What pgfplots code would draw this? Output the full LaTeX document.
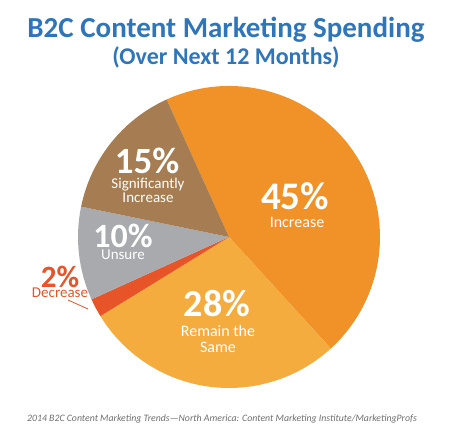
\documentclass[border=0pt]{standalone}
\usepackage{fontspec}
\setmainfont{Carlito}
\usepackage{pgfplots}
\pgfplotsset{compat=1.18}

\definecolor{titleblue}{RGB}{46,117,186}
\definecolor{cInc}{RGB}{240,146,40}
\definecolor{cSame}{RGB}{245,172,62}
\definecolor{cDec}{RGB}{230,84,40}
\definecolor{cUns}{RGB}{168,170,174}
\definecolor{cSig}{RGB}{166,125,82}
\definecolor{footgray}{RGB}{110,110,110}

% pie slice: #1 percent, #2 colour; angles run clockwise from \pieangle
\def\pieangle{114.4}
\newcommand\pieslice[2]{%
  \pgfmathsetmacro\sa{\pieangle}%
  \pgfmathsetmacro\ea{\pieangle-3.6*#1}%
  \xdef\pieangle{\ea}%
  \edef\tmp{\noexpand\fill[#2] (axis cs:0,0) -- (axis cs:{cos(\sa)},{sin(\sa)})
    arc[start angle=\sa, end angle=\ea, radius=1] -- cycle;}%
  \tmp}

\begin{document}
\begin{tikzpicture}[x=1pt,y=1pt, every node/.style={inner sep=0pt, anchor=base}]
\path[use as bounding box] (0,0) rectangle (456,440);

\begin{axis}[
    at={(229pt,203pt)}, anchor=center,
    width=302pt, height=302pt, scale only axis,
    xmin=-1, xmax=1, ymin=-1, ymax=1,
    hide axis, clip=false,
]
  \pieslice{45}{cInc}
  \pieslice{28}{cSame}
  \pieslice{2}{cDec}
  \pieslice{10}{cUns}
  \pieslice{15}{cSig}
\end{axis}

% title
\node[text=titleblue, font=\fontsize{29}{31}\selectfont\bfseries] at (226,402) {B2C Content Marketing Spending};
\node[text=titleblue, font=\fontsize{24}{26}\selectfont\bfseries] at (226,375) {(Over Next 12 Months)};

% slice labels
\node[white, font=\fontsize{39}{40}\selectfont\bfseries] at (295,230) {45\%};
\node[white, font=\fontsize{16}{18}\selectfont] at (297,212) {Increase};

\node[white, font=\fontsize{38}{40}\selectfont\bfseries] at (217,123) {28\%};
\node[white, font=\fontsize{16}{18}\selectfont] at (218,103) {Remain the};
\node[white, font=\fontsize{16}{18}\selectfont] at (218,88) {Same};

\node[white, font=\fontsize{37}{40}\selectfont\bfseries] at (147,266) {15\%};
\node[white, font=\fontsize{15}{17}\selectfont] at (148,251) {Significantly};
\node[white, font=\fontsize{15}{17}\selectfont] at (148,237) {Increase};

\node[white, font=\fontsize{34}{36}\selectfont\bfseries] at (123,192) {10\%};
\node[white, font=\fontsize{15}{17}\selectfont] at (123,180) {Unsure};

\node[text=cDec, font=\fontsize{31}{34}\selectfont\bfseries] at (60,152) {2\%};
\node[text=cDec, font=\fontsize{15}{17}\selectfont] at (60,142) {Decrease};
\draw[cDec, line width=0.8pt] (68,140) -- (88,131);

% source
\node[text=footgray, font=\fontsize{9.8}{12}\selectfont\itshape] at (222,19) {2014 B2C Content Marketing Trends---North America: Content Marketing Institute/MarketingProfs};
\end{tikzpicture}
\end{document}
